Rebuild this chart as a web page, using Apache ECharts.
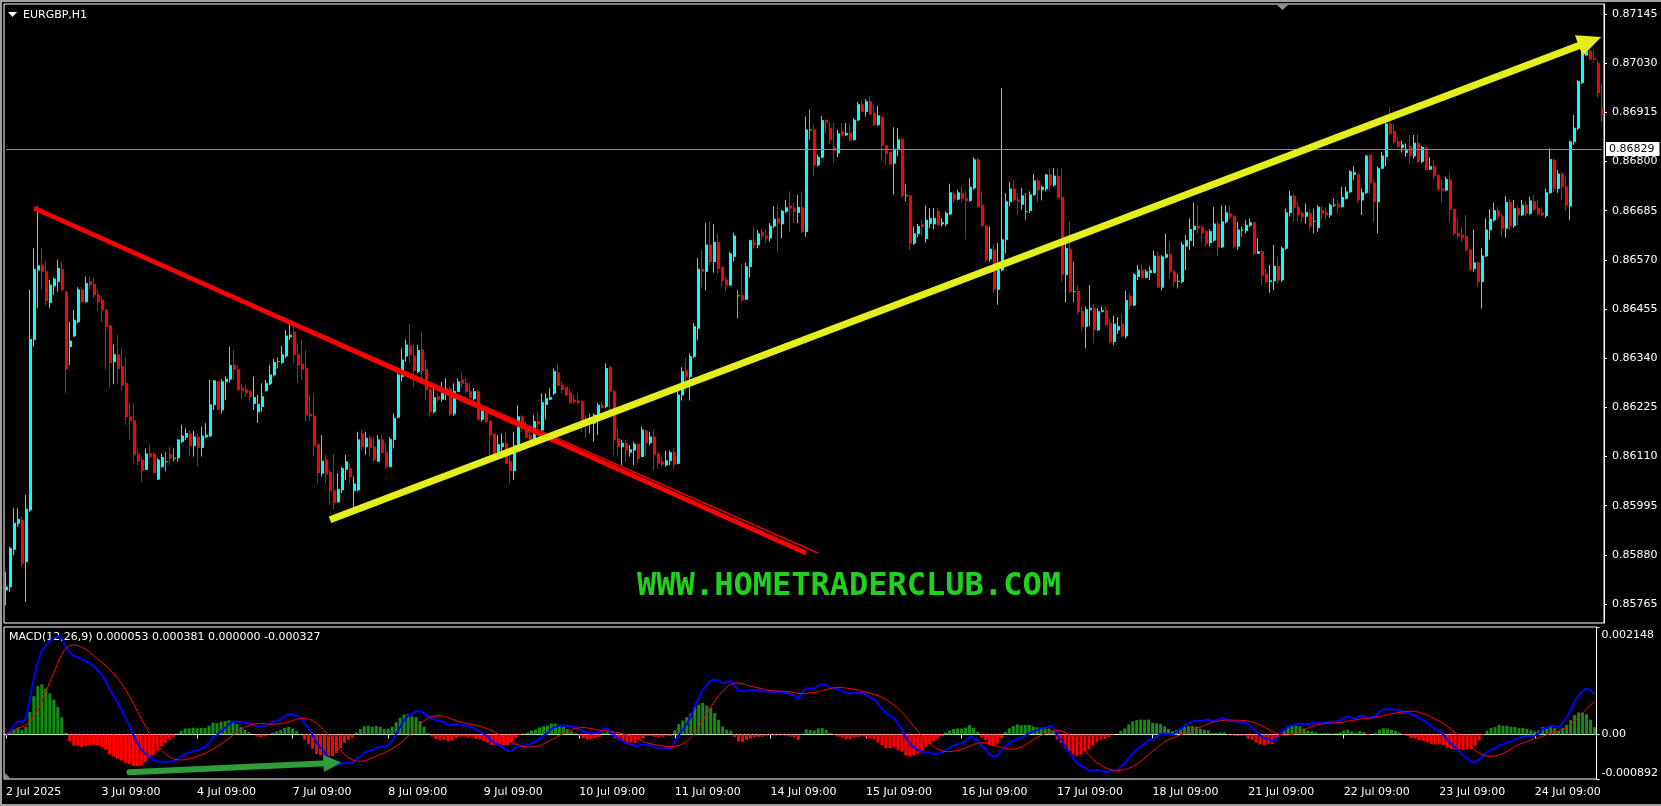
<!DOCTYPE html>
<html><head><meta charset="utf-8">
<script src="https://cdn.jsdelivr.net/npm/echarts@6/dist/echarts.min.js"></script>
<style>html,body{margin:0;padding:0;background:#000;overflow:hidden}#c{width:1661px;height:806px}</style>
</head><body><div id="c"></div>
<script>
// ---- categories: EURGBP H1, 2 Jul 2025 09:00 .. 25 Jul 00:00 (weekends skipped)
const tradingDays = ['2 Jul','3 Jul','4 Jul','7 Jul','8 Jul','9 Jul','10 Jul','11 Jul','14 Jul','15 Jul','16 Jul','17 Jul','18 Jul','21 Jul','22 Jul','23 Jul','24 Jul','25 Jul'];
const firstDayStartHour = 9;
const lastDayEndHour = 0;
const yearLabel = '2025';

const openP = [
0.85798,0.85805,0.85893,0.85954,0.85961,0.85864,0.85985,0.86384,0.86546,0.86558,
0.86543,0.86470,0.86509,0.86519,0.86548,0.86495,0.86367,0.86392,0.86425,0.86500,
0.86472,0.86519,0.86513,0.86488,0.86476,0.86453,0.86416,0.86332,0.86348,0.86320,
0.86281,0.86203,0.86194,0.86116,0.86102,0.86080,0.86117,0.86116,0.86057,0.86086,
0.86098,0.86114,0.86106,0.86107,0.86145,0.86155,0.86163,0.86135,0.86155,0.86131,
0.86156,0.86158,0.86231,0.86285,0.86219,0.86285,0.86291,0.86324,0.86314,0.86270,
0.86266,0.86262,0.86234,0.86215,0.86227,0.86264,0.86280,0.86301,0.86332,0.86330,
0.86345,0.86390,0.86401,0.86348,0.86326,0.86316,0.86209,0.86205,0.86138,0.86071,
0.86102,0.86073,0.86030,0.86004,0.86032,0.86080,0.86082,0.86030,0.86032,0.86163,
0.86133,0.86153,0.86133,0.86099,0.86149,0.86119,0.86086,0.86150,0.86202,0.86297,
0.86345,0.86369,0.86345,0.86309,0.86359,0.86314,0.86266,0.86215,0.86250,0.86244,
0.86262,0.86268,0.86210,0.86262,0.86289,0.86281,0.86262,0.86245,0.86262,0.86197,
0.86220,0.86192,0.86163,0.86113,0.86133,0.86141,0.86098,0.86077,0.86133,0.86203,
0.86172,0.86160,0.86150,0.86192,0.86172,0.86232,0.86244,0.86258,0.86306,0.86277,
0.86272,0.86259,0.86242,0.86240,0.86238,0.86195,0.86188,0.86188,0.86200,0.86230,
0.86227,0.86319,0.86262,0.86152,0.86133,0.86141,0.86120,0.86125,0.86139,0.86110,
0.86170,0.86142,0.86156,0.86116,0.86098,0.86090,0.86100,0.86119,0.86094,0.86254,
0.86311,0.86297,0.86344,0.86410,0.86548,0.86543,0.86605,0.86566,0.86611,0.86553,
0.86523,0.86511,0.86578,0.86486,0.86486,0.86478,0.86554,0.86610,0.86605,0.86634,
0.86626,0.86621,0.86649,0.86667,0.86654,0.86683,0.86696,0.86691,0.86681,0.86692,
0.86636,0.86874,0.86874,0.86792,0.86810,0.86896,0.86878,0.86833,0.86820,0.86870,
0.86862,0.86866,0.86851,0.86897,0.86933,0.86917,0.86940,0.86913,0.86886,0.86904,
0.86837,0.86821,0.86796,0.86829,0.86852,0.86720,0.86720,0.86609,0.86631,0.86652,
0.86620,0.86655,0.86654,0.86683,0.86654,0.86654,0.86677,0.86724,0.86712,0.86726,
0.86714,0.86709,0.86738,0.86804,0.86698,0.86649,0.86572,0.86593,0.86501,0.86546,
0.86617,0.86706,0.86736,0.86710,0.86700,0.86683,0.86685,0.86722,0.86755,0.86734,
0.86736,0.86769,0.86745,0.86766,0.86716,0.86535,0.86595,0.86496,0.86496,0.86449,
0.86414,0.86453,0.86457,0.86406,0.86449,0.86451,0.86422,0.86379,0.86406,0.86420,
0.86392,0.86485,0.86464,0.86531,0.86546,0.86529,0.86540,0.86540,0.86579,0.86506,
0.86576,0.86583,0.86542,0.86520,0.86519,0.86602,0.86615,0.86641,0.86649,0.86646,
0.86636,0.86610,0.86616,0.86654,0.86600,0.86659,0.86677,0.86672,0.86602,0.86640,
0.86638,0.86651,0.86657,0.86585,0.86589,0.86537,0.86519,0.86521,0.86555,0.86523,
0.86597,0.86680,0.86719,0.86693,0.86679,0.86672,0.86678,0.86660,0.86645,0.86686,
0.86681,0.86675,0.86698,0.86700,0.86694,0.86714,0.86729,0.86770,0.86770,0.86710,
0.86727,0.86815,0.86750,0.86706,0.86784,0.86811,0.86888,0.86870,0.86846,0.86833,
0.86821,0.86836,0.86813,0.86843,0.86800,0.86833,0.86782,0.86789,0.86768,0.86737,
0.86733,0.86757,0.86688,0.86632,0.86628,0.86625,0.86593,0.86550,0.86563,0.86519,
0.86579,0.86640,0.86663,0.86685,0.86672,0.86644,0.86704,0.86650,0.86690,0.86675,
0.86698,0.86679,0.86706,0.86690,0.86680,0.86673,0.86727,0.86803,0.86737,0.86771,
0.86741,0.86696,0.86846,0.86878,0.86984,0.87049,0.87057,0.87041,0.87030,0.86924
];
const closeP = [
0.85805,0.85895,0.85954,0.85963,0.85860,0.85987,0.86384,0.86548,0.86556,0.86543,
0.86475,0.86511,0.86525,0.86550,0.86500,0.86315,0.86380,0.86429,0.86500,0.86472,
0.86515,0.86511,0.86488,0.86472,0.86453,0.86414,0.86330,0.86348,0.86316,0.86277,
0.86203,0.86194,0.86114,0.86099,0.86077,0.86116,0.86110,0.86072,0.86102,0.86108,
0.86098,0.86107,0.86106,0.86149,0.86158,0.86164,0.86135,0.86156,0.86131,0.86158,
0.86160,0.86231,0.86287,0.86220,0.86285,0.86291,0.86323,0.86314,0.86266,0.86264,
0.86259,0.86250,0.86248,0.86232,0.86250,0.86281,0.86301,0.86330,0.86332,0.86348,
0.86392,0.86394,0.86348,0.86324,0.86314,0.86207,0.86205,0.86135,0.86072,0.86099,
0.86069,0.86030,0.86002,0.86033,0.86082,0.86098,0.86063,0.86046,0.86149,0.86133,
0.86153,0.86131,0.86102,0.86149,0.86119,0.86086,0.86150,0.86199,0.86301,0.86336,
0.86371,0.86348,0.86311,0.86358,0.86311,0.86266,0.86215,0.86248,0.86244,0.86262,
0.86268,0.86210,0.86262,0.86285,0.86281,0.86262,0.86248,0.86262,0.86197,0.86220,
0.86192,0.86160,0.86113,0.86138,0.86141,0.86094,0.86077,0.86135,0.86203,0.86176,
0.86155,0.86150,0.86192,0.86186,0.86236,0.86246,0.86248,0.86309,0.86277,0.86267,
0.86254,0.86236,0.86238,0.86236,0.86192,0.86192,0.86188,0.86207,0.86230,0.86225,
0.86316,0.86262,0.86150,0.86133,0.86141,0.86125,0.86126,0.86139,0.86106,0.86172,
0.86142,0.86156,0.86114,0.86094,0.86092,0.86100,0.86119,0.86092,0.86254,0.86309,
0.86297,0.86344,0.86414,0.86548,0.86543,0.86605,0.86566,0.86611,0.86550,0.86521,
0.86511,0.86584,0.86626,0.86486,0.86476,0.86554,0.86615,0.86605,0.86631,0.86626,
0.86621,0.86649,0.86665,0.86656,0.86684,0.86692,0.86691,0.86683,0.86693,0.86636,
0.86874,0.86874,0.86792,0.86810,0.86896,0.86891,0.86851,0.86826,0.86865,0.86862,
0.86866,0.86851,0.86897,0.86933,0.86917,0.86940,0.86911,0.86886,0.86907,0.86837,
0.86819,0.86794,0.86829,0.86851,0.86720,0.86720,0.86609,0.86631,0.86648,0.86648,
0.86663,0.86667,0.86667,0.86652,0.86657,0.86679,0.86727,0.86712,0.86727,0.86714,
0.86709,0.86740,0.86804,0.86695,0.86649,0.86570,0.86595,0.86501,0.86546,0.86617,
0.86706,0.86736,0.86710,0.86706,0.86720,0.86683,0.86722,0.86755,0.86734,0.86740,
0.86769,0.86745,0.86766,0.86716,0.86535,0.86597,0.86496,0.86496,0.86449,0.86414,
0.86454,0.86457,0.86406,0.86449,0.86451,0.86418,0.86379,0.86420,0.86414,0.86392,
0.86475,0.86464,0.86535,0.86546,0.86529,0.86542,0.86545,0.86579,0.86506,0.86577,
0.86583,0.86542,0.86519,0.86520,0.86605,0.86615,0.86641,0.86649,0.86644,0.86633,
0.86608,0.86636,0.86654,0.86600,0.86659,0.86680,0.86671,0.86602,0.86640,0.86640,
0.86651,0.86657,0.86585,0.86589,0.86534,0.86519,0.86521,0.86555,0.86523,0.86597,
0.86680,0.86719,0.86693,0.86675,0.86671,0.86681,0.86649,0.86660,0.86693,0.86679,
0.86675,0.86698,0.86698,0.86694,0.86716,0.86729,0.86776,0.86774,0.86710,0.86727,
0.86813,0.86750,0.86706,0.86784,0.86813,0.86888,0.86866,0.86846,0.86835,0.86839,
0.86826,0.86813,0.86843,0.86800,0.86833,0.86782,0.86788,0.86766,0.86735,0.86733,
0.86758,0.86688,0.86632,0.86626,0.86622,0.86593,0.86548,0.86563,0.86519,0.86579,
0.86640,0.86665,0.86685,0.86672,0.86644,0.86704,0.86650,0.86690,0.86675,0.86698,
0.86679,0.86708,0.86688,0.86677,0.86675,0.86727,0.86805,0.86737,0.86771,0.86741,
0.86698,0.86846,0.86878,0.86987,0.87049,0.87057,0.87039,0.87039,0.86961,0.86909
];
const lowP = [
0.85762,0.85794,0.85879,0.85946,0.85852,0.85770,0.85980,0.86367,0.86457,0.86500,
0.86464,0.86457,0.86488,0.86496,0.86496,0.86258,0.86324,0.86390,0.86422,0.86468,
0.86470,0.86500,0.86482,0.86451,0.86425,0.86314,0.86270,0.86279,0.86281,0.86264,
0.86184,0.86149,0.86094,0.86090,0.86051,0.86078,0.86106,0.86071,0.86055,0.86085,
0.86075,0.86090,0.86098,0.86098,0.86141,0.86149,0.86110,0.86110,0.86086,0.86110,
0.86153,0.86156,0.86219,0.86219,0.86211,0.86242,0.86283,0.86289,0.86264,0.86244,
0.86250,0.86238,0.86219,0.86189,0.86215,0.86262,0.86277,0.86297,0.86316,0.86326,
0.86340,0.86383,0.86328,0.86281,0.86289,0.86192,0.86192,0.86110,0.86047,0.86063,
0.86046,0.85997,0.85986,0.86002,0.86025,0.86055,0.86046,0.85986,0.86028,0.86125,
0.86114,0.86110,0.86098,0.86098,0.86117,0.86080,0.86085,0.86129,0.86199,0.86285,
0.86332,0.86328,0.86272,0.86305,0.86285,0.86242,0.86203,0.86211,0.86238,0.86238,
0.86242,0.86205,0.86205,0.86262,0.86273,0.86258,0.86246,0.86241,0.86195,0.86192,
0.86188,0.86113,0.86110,0.86111,0.86110,0.86092,0.86046,0.86055,0.86129,0.86168,
0.86153,0.86149,0.86145,0.86164,0.86166,0.86197,0.86242,0.86254,0.86275,0.86258,
0.86252,0.86234,0.86234,0.86233,0.86168,0.86153,0.86164,0.86145,0.86160,0.86223,
0.86223,0.86213,0.86113,0.86113,0.86090,0.86098,0.86110,0.86090,0.86094,0.86110,
0.86113,0.86137,0.86078,0.86082,0.86086,0.86086,0.86090,0.86082,0.86092,0.86241,
0.86262,0.86241,0.86340,0.86383,0.86506,0.86498,0.86558,0.86540,0.86539,0.86507,
0.86496,0.86511,0.86566,0.86433,0.86472,0.86476,0.86529,0.86597,0.86597,0.86617,
0.86609,0.86613,0.86644,0.86589,0.86620,0.86679,0.86636,0.86656,0.86656,0.86632,
0.86624,0.86851,0.86766,0.86788,0.86808,0.86866,0.86841,0.86796,0.86810,0.86858,
0.86860,0.86847,0.86849,0.86894,0.86915,0.86905,0.86909,0.86882,0.86883,0.86802,
0.86792,0.86792,0.86722,0.86813,0.86716,0.86706,0.86593,0.86605,0.86623,0.86626,
0.86610,0.86644,0.86642,0.86649,0.86648,0.86648,0.86675,0.86704,0.86709,0.86704,
0.86618,0.86706,0.86734,0.86693,0.86648,0.86564,0.86566,0.86492,0.86465,0.86543,
0.86585,0.86695,0.86706,0.86675,0.86687,0.86663,0.86680,0.86720,0.86706,0.86709,
0.86730,0.86730,0.86741,0.86714,0.86519,0.86470,0.86492,0.86470,0.86441,0.86402,
0.86363,0.86414,0.86375,0.86404,0.86447,0.86415,0.86375,0.86371,0.86397,0.86389,
0.86386,0.86454,0.86462,0.86523,0.86527,0.86527,0.86523,0.86539,0.86504,0.86498,
0.86573,0.86527,0.86507,0.86503,0.86515,0.86546,0.86593,0.86601,0.86632,0.86612,
0.86601,0.86602,0.86612,0.86579,0.86598,0.86655,0.86665,0.86597,0.86594,0.86624,
0.86632,0.86647,0.86581,0.86584,0.86511,0.86515,0.86493,0.86499,0.86515,0.86519,
0.86593,0.86671,0.86659,0.86659,0.86657,0.86655,0.86641,0.86632,0.86636,0.86665,
0.86665,0.86669,0.86693,0.86679,0.86693,0.86711,0.86727,0.86757,0.86704,0.86675,
0.86724,0.86725,0.86659,0.86632,0.86782,0.86788,0.86862,0.86841,0.86831,0.86821,
0.86811,0.86794,0.86807,0.86797,0.86796,0.86778,0.86780,0.86758,0.86733,0.86704,
0.86732,0.86659,0.86626,0.86620,0.86612,0.86589,0.86545,0.86542,0.86507,0.86456,
0.86577,0.86618,0.86659,0.86663,0.86624,0.86622,0.86640,0.86645,0.86651,0.86672,
0.86672,0.86675,0.86683,0.86675,0.86672,0.86669,0.86725,0.86729,0.86727,0.86710,
0.86685,0.86663,0.86839,0.86874,0.86981,0.87047,0.87037,0.87031,0.86950,0.86893
];
const highP = [
0.85840,0.85899,0.85989,0.85989,0.85969,0.86020,0.86500,0.86597,0.86695,0.86597,
0.86570,0.86523,0.86529,0.86570,0.86567,0.86498,0.86425,0.86453,0.86506,0.86506,
0.86531,0.86531,0.86528,0.86500,0.86484,0.86454,0.86418,0.86372,0.86394,0.86363,
0.86344,0.86236,0.86234,0.86129,0.86110,0.86129,0.86138,0.86121,0.86106,0.86117,
0.86121,0.86133,0.86129,0.86150,0.86184,0.86176,0.86172,0.86170,0.86164,0.86180,
0.86188,0.86289,0.86289,0.86287,0.86291,0.86297,0.86367,0.86359,0.86324,0.86280,
0.86277,0.86266,0.86297,0.86254,0.86281,0.86289,0.86324,0.86338,0.86342,0.86369,
0.86406,0.86422,0.86414,0.86375,0.86383,0.86358,0.86254,0.86256,0.86141,0.86160,
0.86114,0.86078,0.86116,0.86071,0.86086,0.86114,0.86096,0.86063,0.86168,0.86174,
0.86168,0.86160,0.86156,0.86160,0.86160,0.86142,0.86155,0.86211,0.86305,0.86363,
0.86384,0.86420,0.86371,0.86371,0.86402,0.86336,0.86270,0.86273,0.86258,0.86285,
0.86293,0.86275,0.86281,0.86293,0.86308,0.86293,0.86281,0.86270,0.86266,0.86227,
0.86227,0.86195,0.86164,0.86160,0.86164,0.86168,0.86133,0.86168,0.86230,0.86207,
0.86192,0.86180,0.86207,0.86215,0.86258,0.86258,0.86270,0.86316,0.86326,0.86285,
0.86273,0.86267,0.86254,0.86259,0.86241,0.86207,0.86211,0.86211,0.86236,0.86238,
0.86328,0.86322,0.86266,0.86176,0.86149,0.86150,0.86137,0.86145,0.86141,0.86180,
0.86173,0.86168,0.86174,0.86121,0.86110,0.86124,0.86124,0.86129,0.86266,0.86319,
0.86340,0.86351,0.86422,0.86574,0.86593,0.86656,0.86660,0.86654,0.86631,0.86554,
0.86531,0.86589,0.86634,0.86500,0.86562,0.86564,0.86617,0.86648,0.86640,0.86642,
0.86640,0.86656,0.86695,0.86701,0.86687,0.86710,0.86730,0.86704,0.86722,0.86730,
0.86905,0.86922,0.86886,0.86816,0.86907,0.86899,0.86893,0.86891,0.86874,0.86890,
0.86890,0.86890,0.86901,0.86940,0.86943,0.86946,0.86954,0.86933,0.86930,0.86905,
0.86839,0.86823,0.86880,0.86878,0.86855,0.86748,0.86722,0.86648,0.86654,0.86663,
0.86698,0.86691,0.86691,0.86691,0.86667,0.86683,0.86748,0.86730,0.86734,0.86743,
0.86730,0.86761,0.86810,0.86808,0.86730,0.86652,0.86648,0.86607,0.86610,0.86972,
0.86726,0.86753,0.86757,0.86726,0.86738,0.86726,0.86730,0.86771,0.86761,0.86743,
0.86771,0.86784,0.86784,0.86784,0.86784,0.86609,0.86660,0.86566,0.86511,0.86461,
0.86461,0.86511,0.86467,0.86457,0.86461,0.86461,0.86433,0.86439,0.86436,0.86445,
0.86498,0.86492,0.86539,0.86558,0.86558,0.86548,0.86556,0.86592,0.86589,0.86581,
0.86632,0.86612,0.86548,0.86538,0.86612,0.86628,0.86667,0.86704,0.86698,0.86651,
0.86640,0.86641,0.86694,0.86660,0.86698,0.86698,0.86698,0.86675,0.86659,0.86649,
0.86663,0.86667,0.86659,0.86620,0.86593,0.86550,0.86558,0.86605,0.86577,0.86601,
0.86690,0.86732,0.86725,0.86706,0.86683,0.86702,0.86688,0.86690,0.86698,0.86696,
0.86693,0.86702,0.86714,0.86710,0.86741,0.86741,0.86780,0.86789,0.86772,0.86737,
0.86815,0.86817,0.86758,0.86788,0.86823,0.86893,0.86928,0.86889,0.86858,0.86849,
0.86842,0.86862,0.86862,0.86864,0.86836,0.86835,0.86810,0.86803,0.86771,0.86758,
0.86764,0.86774,0.86690,0.86667,0.86647,0.86675,0.86596,0.86641,0.86566,0.86597,
0.86667,0.86688,0.86704,0.86694,0.86679,0.86719,0.86712,0.86710,0.86698,0.86710,
0.86706,0.86718,0.86721,0.86711,0.86694,0.86737,0.86831,0.86807,0.86780,0.86776,
0.86764,0.86849,0.86909,0.86991,0.87094,0.87076,0.87061,0.87061,0.87037,0.86981
];

// price axis ticks (right scale) and MACD scale labels
const priceTicks = [0.85765,0.85880,0.85995,0.86110,0.86225,0.86340,0.86455,0.86570,0.86685,0.86800,0.86915,0.87030,0.87145];
const priceAxisMin = 0.857207, priceAxisMax = 0.871684;
const bidPrice = 0.86829;
const macdTicks = [-0.000892, 0, 0.002148];
const macdParams = {fast: 12, slow: 26, signal: 9};
const macdLabelText = 'MACD(12,26,9) 0.000053 0.000381 0.000000 -0.000327';
const symbolTitle = 'EURGBP,H1';
const watermark = 'WWW.HOMETRADERCLUB.COM';

// hand-drawn annotations in data space: [bar index, price]
const redTrendStart = [7.25, 0.86691];
const redTrendEndThick = [200.25, 0.85884];
const redTrendEndThin = [203, 0.85884];
const yellowTrendStart = [80.5, 0.85962];
const yellowTrendEnd = [396.25, 0.87081];
const greenMacdArrowStart = [31, -0.000755];
const greenMacdArrowEnd = [81.5, -0.000572];

// ---- build categories
const categories = [];
tradingDays.forEach((d, k) => {
  const h0 = k === 0 ? firstDayStartHour : 0;
  const h1 = k === tradingDays.length - 1 ? lastDayEndHour : 23;
  for (let h = h0; h <= h1; h++) categories.push(d + ' ' + String(h).padStart(2, '0') + ':00');
});
const candleData = openP.map((o, i) => [o, closeP[i], lowP[i], highP[i]]);
const firstSlot = 0, lastSlot = categories.length - 1;

// ---- MACD indicator derived from closes (EMA12 - EMA26, SMA9 signal, as MT4)
function ema(arr, n) {
  const k = 2 / (n + 1); const out = []; let prev = arr[0];
  arr.forEach((v, i) => { prev = i === 0 ? v : v * k + prev * (1 - k); out.push(prev); });
  return out;
}
const emaFast = ema(closeP, macdParams.fast), emaSlow = ema(closeP, macdParams.slow);
const macdMain = closeP.map((_, i) => emaFast[i] - emaSlow[i]);
const macdSignal = macdMain.map((_, i) => {
  const w = macdMain.slice(Math.max(0, i - macdParams.signal + 1), i + 1);
  return w.reduce((a, b) => a + b, 0) / w.length;
});
const macdHist = macdMain.map((v, i) => v - macdSignal[i]);

const FONT = 'DejaVu Sans';
const isLabelSlot = (index, value) => categories[index].endsWith('09:00');
const bidLabel = {show: true, position: 'end', distance: 4, formatter: bidPrice.toFixed(5),
                  backgroundColor: '#ffffff', color: '#000000', padding: [2, 5, 1, 3], fontSize: 11, fontFamily: FONT};

const chart = echarts.init(document.getElementById('c'), null, {renderer: 'canvas'});
chart.setOption({
  backgroundColor: '#000',
  animation: false,
  textStyle: {fontFamily: FONT},
  grid: [
    {left: 4, top: 4, width: 1600, height: 619, show: true, borderColor: '#ffffff', borderWidth: 1},
    {left: 4, top: 627, width: 1600, height: 152, show: true, borderColor: '#ffffff', borderWidth: 1}
  ],
  xAxis: [
    {type: 'category', gridIndex: 0, data: categories, boundaryGap: true,
     axisLine: {show: false}, axisTick: {show: false}, axisLabel: {show: false}, splitLine: {show: false}},
    {type: 'category', gridIndex: 1, data: categories, boundaryGap: true,
     axisLine: {show: true, lineStyle: {color: '#ffffff', width: 1}},
     axisTick: {show: true, interval: isLabelSlot, alignWithLabel: true, length: 4, lineStyle: {color: '#ffffff'}},
     axisLabel: {interval: isLabelSlot, color: '#ffffff', fontFamily: FONT, fontSize: 11, align: 'left', margin: 8,
       formatter: (value, index) => index === 0 ? value.split(' ').slice(0, 2).join(' ') + ' ' + yearLabel : value},
     splitLine: {show: false}}
  ],
  yAxis: [
    {type: 'value', gridIndex: 0, position: 'right', min: priceAxisMin, max: priceAxisMax, scale: true,
     axisLine: {show: true, lineStyle: {color: '#ffffff'}},
     axisTick: {show: true, customValues: priceTicks, length: 3, lineStyle: {color: '#ffffff'}},
     axisLabel: {customValues: priceTicks, color: '#ffffff', fontFamily: FONT, fontSize: 11, margin: 8,
       formatter: v => v.toFixed(5)},
     splitLine: {show: false}},
    {type: 'value', gridIndex: 1, position: 'right', min: macdTicks[0], max: macdTicks[2],
     axisLine: {show: true, lineStyle: {color: '#ffffff'}},
     axisTick: {show: true, customValues: macdTicks, length: 3, lineStyle: {color: '#ffffff'}},
     axisLabel: {customValues: macdTicks, color: '#ffffff', fontFamily: FONT, fontSize: 11, margin: 5,
       formatter: v => v > 0 ? '{t|' + v.toFixed(6) + '}' : (v < 0 ? '{b|' + v.toFixed(6) + '}' : '0.00'),
       rich: {
         t: {padding: [16, 0, 0, 0], color: '#ffffff', fontFamily: FONT, fontSize: 11},
         b: {padding: [0, 0, 12, 0], color: '#ffffff', fontFamily: FONT, fontSize: 11}
       }},
     splitLine: {show: false}}
  ],
  series: [
    {
      type: 'candlestick', xAxisIndex: 0, yAxisIndex: 0, data: candleData, barWidth: 2.5,
      itemStyle: {color: '#00ffff', color0: '#ff0000', borderColor: '#00ffff', borderColor0: '#ff0000',
                  borderColorDoji: '#00ff00', borderWidth: 1},
      emphasis: {disabled: true},
      markLine: {
        silent: true, animation: false, symbol: ['none', 'none'], label: {show: false},
        data: [
          [{coord: [firstSlot, bidPrice], lineStyle: {color: '#8090a0', width: 1, type: 'solid'}, label: bidLabel},
           {coord: [lastSlot, bidPrice], label: bidLabel}],
          [{coord: redTrendStart, lineStyle: {color: '#ff0000', width: 1.5, type: 'solid'}}, {coord: redTrendEndThin}],
          [{coord: redTrendStart, lineStyle: {color: '#ff0000', width: 4.5, type: 'solid'}}, {coord: redTrendEndThick}],
          [{coord: yellowTrendStart, lineStyle: {color: '#e2ef1d', width: 7, type: 'solid'}},
           {coord: yellowTrendEnd, symbol: 'triangle', symbolSize: [22, 24]}]
        ]
      }
    },
    {
      type: 'bar', xAxisIndex: 1, yAxisIndex: 1, barWidth: 3,
      data: macdHist.map(v => ({value: v, itemStyle: {color: v >= 0 ? '#158a15' : '#ff0000'}})),
      markLine: {
        silent: true, animation: false, symbol: ['none', 'none'], label: {show: false},
        data: [
          [{coord: greenMacdArrowStart, lineStyle: {color: '#2e9e3a', width: 6, type: 'solid', cap: 'round'}},
           {coord: greenMacdArrowEnd, symbol: 'triangle', symbolSize: [17, 18]}]
        ]
      }
    },
    {type: 'line', xAxisIndex: 1, yAxisIndex: 1, data: macdMain, showSymbol: false, symbol: 'none',
     lineStyle: {color: '#0000ff', width: 2}, z: 3},
    {type: 'line', xAxisIndex: 1, yAxisIndex: 1, data: macdSignal, showSymbol: false, symbol: 'none',
     lineStyle: {color: '#ff0000', width: 1}, z: 4}
  ],
  graphic: [
    {type: 'rect', silent: true, shape: {x: 0, y: 0, width: 1661, height: 2}, style: {fill: '#a0a0a0'}},
    {type: 'rect', silent: true, shape: {x: 0, y: 0, width: 2, height: 806}, style: {fill: '#a0a0a0'}},
    {type: 'rect', silent: true, shape: {x: 0, y: 804, width: 1661, height: 2}, style: {fill: '#a0a0a0'}},
    {type: 'polygon', silent: true, shape: {points: [[8, 12], [17, 12], [12.5, 17]]}, style: {fill: '#ffffff'}},
    {type: 'text', silent: true, x: 23, y: 15, style: {text: symbolTitle, fill: '#ffffff', font: '11px "DejaVu Sans"', verticalAlign: 'middle'}},
    {type: 'text', silent: true, x: 9, y: 637, style: {text: macdLabelText, fill: '#ffffff', font: '11px "DejaVu Sans"', verticalAlign: 'middle'}},
    {type: 'text', silent: true, x: 849, y: 587, style: {text: watermark, fill: '#1fd01f', font: 'bold 32px "DejaVu Sans Mono"', align: 'center', verticalAlign: 'middle'}},
    {type: 'polygon', silent: true, shape: {points: [[1277, 5], [1288, 5], [1282.5, 10]]}, style: {fill: '#8a949e'}},
    {type: 'polygon', silent: true, shape: {points: [[5, 773], [5, 779], [11, 779]]}, style: {fill: '#8a8a8a'}}
  ]
});
</script>
</body></html>
